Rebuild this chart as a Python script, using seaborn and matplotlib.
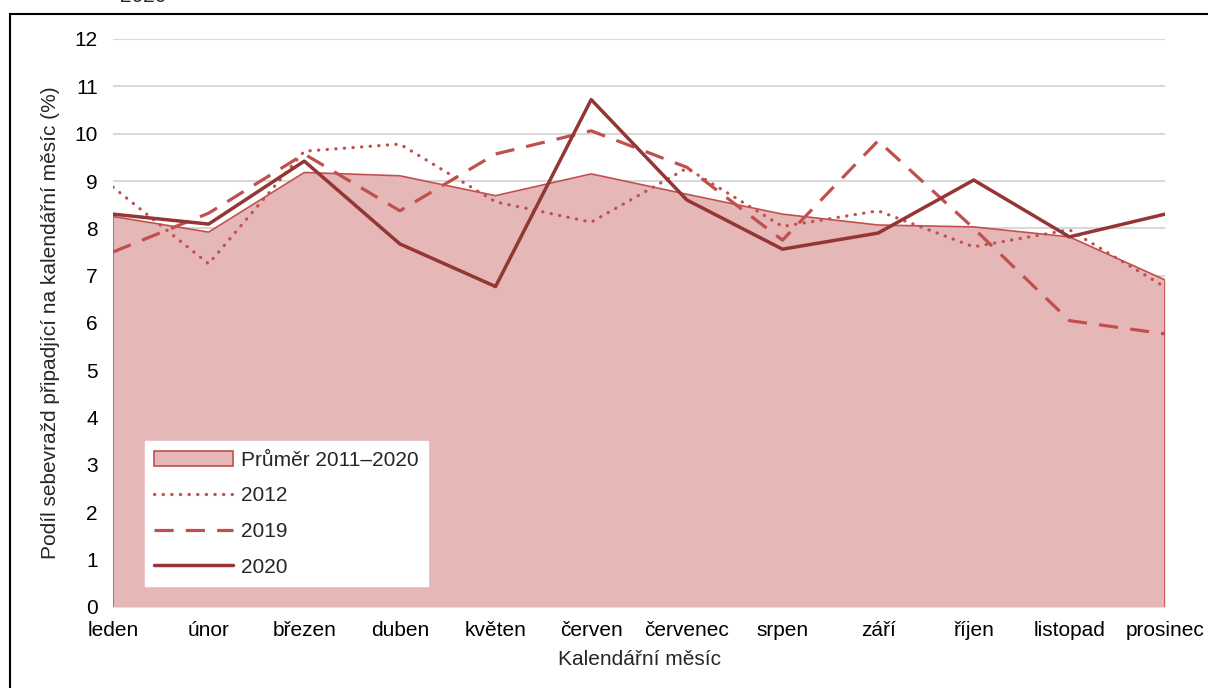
import matplotlib
matplotlib.use('Agg')
import matplotlib.pyplot as plt
from matplotlib.patches import Patch, Rectangle
from matplotlib.lines import Line2D
import seaborn as sns
import pandas as pd

months = ['leden', 'únor', 'březen', 'duben', 'květen', 'červen', 'červenec',
          'srpen', 'září', 'říjen', 'listopad', 'prosinec']
avg_2011_2020 = [8.25, 7.92, 9.18, 9.11, 8.69, 9.15, 8.72, 8.30, 8.07, 8.03, 7.82, 6.91]
y2012 = [8.87, 7.25, 9.63, 9.78, 8.56, 8.13, 9.27, 8.04, 8.37, 7.61, 7.97, 6.76]
y2019 = [7.50, 8.32, 9.57, 8.37, 9.57, 10.06, 9.29, 7.75, 9.85, 8.00, 6.05, 5.77]
y2020 = [8.30, 8.09, 9.42, 7.67, 6.77, 10.72, 8.60, 7.56, 7.90, 9.02, 7.82, 8.30]

df = pd.DataFrame({'pos': range(len(months)), 'mesic': months,
                   'prumer': avg_2011_2020, '2012': y2012, '2019': y2019, '2020': y2020})

sns.set_style('white')
plt.rcParams['font.family'] = ['Liberation Sans', 'DejaVu Sans']

red = '#C0504D'
dark = '#943634'
fill = '#E5B7B7'
fs = 15

fig = plt.figure(figsize=(12.08, 6.88), dpi=100)
ax = fig.add_axes([113 / 1208, 1 - 607 / 688, (1165 - 113) / 1208, (607 - 39) / 688])

# gridlines
for v in range(1, 13):
    ax.axhline(v, color='#D9D9D9', lw=1.5, zorder=0)

ax.fill_between(df.pos, 0, df.prumer, color=fill, zorder=1, lw=0)
ax.plot([0, 0], [0, avg_2011_2020[0]], color=red, lw=1.2, zorder=2)
ax.plot([11, 11], [0, avg_2011_2020[-1]], color=red, lw=1.2, zorder=2)
sns.lineplot(data=df, x='pos', y='prumer', color=red, lw=1.2, ax=ax, zorder=2)
sns.lineplot(data=df, x='pos', y='2012', color=red, lw=2.3, ax=ax, zorder=3,
             linestyle=(0, (0.1, 2.6)), dash_capstyle='round')
sns.lineplot(data=df, x='pos', y='2019', color=red, lw=2.3, ax=ax, zorder=3,
             linestyle=(0, (6, 3.8)))
sns.lineplot(data=df, x='pos', y='2020', color=dark, lw=2.5, ax=ax, zorder=4)

ax.set_xlim(0, 11)
ax.set_ylim(0, 12)
ax.set_xticks(df.pos)
ax.set_xticklabels(months)
ax.set_yticks(range(0, 13))
for s in ax.spines.values():
    s.set_visible(False)
ax.tick_params(axis='both', labelsize=fs, length=0, colors='black')
ax.tick_params(axis='y', pad=11)
ax.tick_params(axis='x', pad=10)
ax.set_xlabel('Kalendářní měsíc', fontsize=fs, labelpad=7)
ax.set_ylabel('Podíl sebevražd připadjící na kalendářní měsíc (%)', fontsize=fs, labelpad=10)

handles = [
    Patch(facecolor=fill, edgecolor=red, lw=1.2, label='Průměr 2011–2020'),
    Line2D([], [], color=red, lw=2.3, linestyle=(0, (0.1, 2.6)), dash_capstyle='round', label='2012'),
    Line2D([], [], color=red, lw=2.3, linestyle=(0, (6, 3.8)), label='2019'),
    Line2D([], [], color=dark, lw=2.5, label='2020'),
]
leg = ax.legend(handles=handles, loc='lower left', bbox_to_anchor=(0.03, 0.037),
                frameon=True, fancybox=False, fontsize=fs, handlelength=3.8,
                labelspacing=0.8, borderpad=0.45, handletextpad=0.4, borderaxespad=0)
leg.get_frame().set_facecolor('white')
leg.get_frame().set_edgecolor('white')
leg.get_frame().set_alpha(1)

# outer frame and clipped title fragment
fig.patches.append(Rectangle((10 / 1208, -0.1), 1.2, 1 - 14 / 688 + 0.1,
                             transform=fig.transFigure, fill=False,
                             edgecolor='black', lw=1.5))
fig.text(120 / 1208, 1 + 4 / 688, '2020', fontsize=fs, va='center', ha='left')

fig.savefig('out.png', dpi=100)
